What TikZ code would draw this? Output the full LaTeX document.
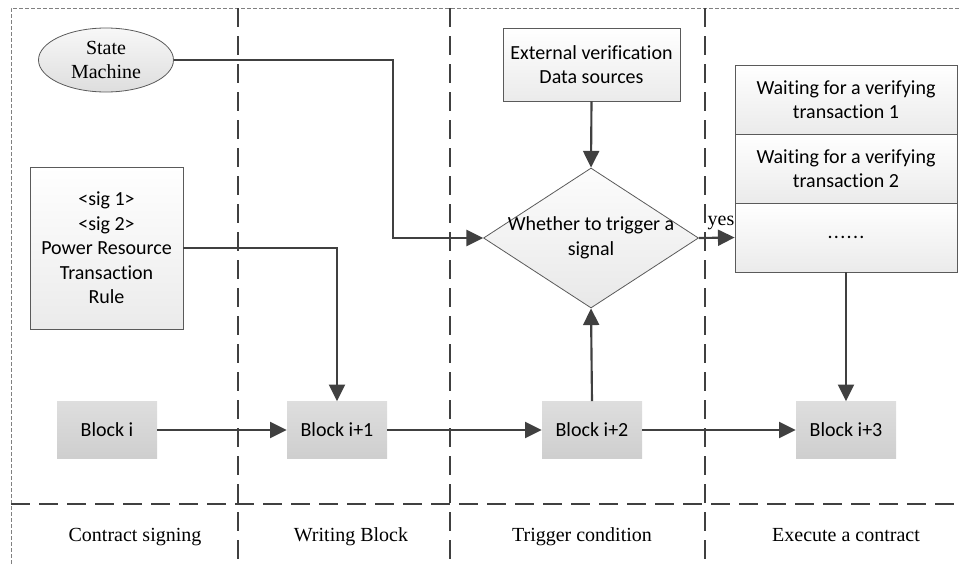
\documentclass[tikz,border=0pt]{standalone}
\usepackage{fontspec}
\setmainfont{Liberation Serif}
\setsansfont{Carlito}[Ligatures=NoCommon]
\usetikzlibrary{shapes.geometric,arrows.meta,positioning}
\definecolor{ink}{HTML}{404040}
\definecolor{edge}{HTML}{5A5A5A}
\def\px{0.75pt}
\tikzset{
  every node/.style={font=\fontsize{15}{18.4}\selectfont, text=black},
  sans/.style={font=\fontsize{15}{18.4}\selectfont\sffamily},
  arr/.style={draw=ink, line width=1.6pt, -{Triangle[length=12.5pt,width=12pt]}},
  lane/.style={draw=ink, line width=2.2pt, dash pattern=on 14pt off 7pt},
  frame/.style={draw=gray, line width=0.6pt, dash pattern=on 3pt off 1.5pt},
  paper/.style={draw=edge, line width=0.6pt, top color=white, bottom color=black!8},
  blockbox/.style={sans, top color=black!13, bottom color=black!19, minimum width=100*\px, minimum height=57*\px, inner sep=0pt},
  caption/.style={anchor=base},
}
\begin{document}
\begin{tikzpicture}[x=\px, y=-\px]
\useasboundingbox (0,0) rectangle (960,564);

% outer frame and lane separators
\draw[frame] (11,564) -- (11,8) -- (960,8);
\draw[lane] (238,8) -- (238,564);
\draw[lane] (450,8) -- (450,564);
\draw[lane] (705,8) -- (705,564);
\draw[lane] (11,504) -- (960,504);

% lane captions
\node[caption] (cap1) at (135,541) {Contract signing};
\node[caption] (cap2) at (351,541) {Writing Block};
\node[caption] (cap3) at (582,541) {Trigger condition};
\node[caption] (cap4) at (846,541) {Execute a contract};

% inputs
\node[ellipse, draw=edge, line width=0.6pt, top color=black!3, bottom color=black!13,
      minimum width=135*\px, minimum height=64*\px, inner sep=0pt, align=center] (sm) at (106,60) {State\\Machine};
\node[paper, sans, minimum width=153*\px, minimum height=162*\px, inner sep=0pt, align=center] (sig) at (106.5,248)
  {<sig 1>\\<sig 2>\\Power Resource\\Transaction\\Rule};
\node[paper, sans, minimum width=177*\px, minimum height=73*\px, inner sep=0pt, align=center] (ext) at (591.5,64.5)
  {External verification\\Data sources};

% decision
\node[diamond, draw=edge, line width=0.6pt, top color=black!1, bottom color=black!9, aspect=1.536,
      minimum width=215*\px, minimum height=140*\px, inner sep=0pt] (dec) at (591,238) {};
\node[sans, align=center] (dectext) at (591,238) {Whether to trigger a\\signal};

% waiting transactions stack
\node[paper, sans, minimum width=222*\px, minimum height=69*\px, inner sep=0pt, align=center] (w1) at (846,99.5)
  {Waiting for a verifying\\transaction 1};
\node[paper, sans, minimum width=222*\px, minimum height=69*\px, inner sep=0pt, align=center] (w2) at (846,168.5)
  {Waiting for a verifying\\transaction 2};
\node[paper, sans, minimum width=222*\px, minimum height=69*\px, inner sep=0pt, align=center] (w3) at (846,237.5)
  {.\kern1pt.\kern1pt.\kern1pt.\kern1pt.\kern1pt.};

% chain of blocks
\node[blockbox] (b0) at (107,430) {Block i};
\node[blockbox] (b1) at (337,430) {Block i+1};
\node[blockbox] (b2) at (592,430) {Block i+2};
\node[blockbox] (b3) at (846,430) {Block i+3};

% connectors
\coordinate (k1) at (393,60);
\draw[arr] (sm.east) -- (k1) |- (dec.west);
\draw[arr] (sig.east) -| (b1.north);
\draw[arr] (ext.south) -- (dec.north);
\draw[arr] (b2.north) -- (dec.south);
\draw[arr] (dec.east) -- (w3.west);
\node (yes) at (721,223) {yes};
\draw[arr] (w3.south) -- (b3.north);
\draw[arr] (b0.east) -- (b1.west);
\draw[arr] (b1.east) -- (b2.west);
\draw[arr] (b2.east) -- (b3.west);
\end{tikzpicture}
\end{document}
